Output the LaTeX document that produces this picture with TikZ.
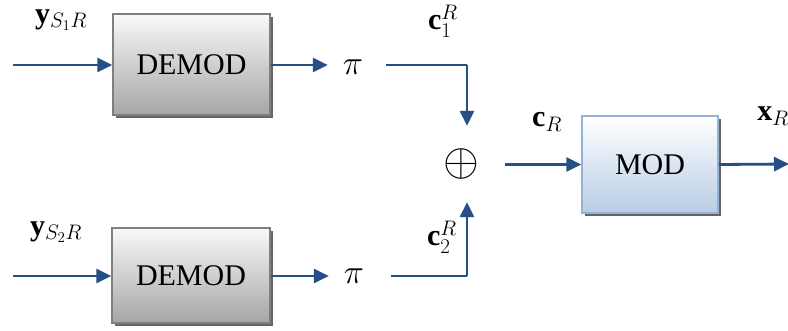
\RequirePackage{fix-cm}
\documentclass[tikz,border=0pt]{standalone}
\usepackage{fontspec}
\setmainfont{Liberation Serif}
\usetikzlibrary{arrows.meta,shadows,positioning}
\definecolor{arrblue}{HTML}{254F85}
\definecolor{boxborder}{HTML}{7F7F7F}
\definecolor{modborder}{HTML}{95B3D7}
\definecolor{modbot}{HTML}{B9CDE5}
\tikzset{
  demodbox/.style={draw=boxborder, line width=1.5pt, top color=gray!5, bottom color=gray!70,
    font=\fontsize{30}{32}\selectfont, inner sep=0pt,
    drop shadow={shadow xshift=3pt, shadow yshift=-3pt, fill=gray!80!black, opacity=1}},
  modbox/.style={draw=modborder, line width=1.5pt, top color=white, bottom color=modbot,
    minimum width=136pt, minimum height=97pt, font=\fontsize{30}{32}\selectfont, inner sep=0pt,
    drop shadow={shadow xshift=3pt, shadow yshift=-3pt, fill=gray!80!black, opacity=1}},
  conn/.style={draw=arrblue, line width=2.8pt, -{Triangle[length=15pt,width=14pt]}},
  conn0/.style={draw=arrblue, line width=2.8pt},
  lbl/.style={font=\fontsize{30}{32}\selectfont, inner sep=0pt},
  sym/.style={font=\fontsize{34}{36}\selectfont, inner sep=0pt}
}
\begin{document}
\begin{tikzpicture}[x=1pt,y=-1pt]
\useasboundingbox (0,0) rectangle (788,330);
% boxes
\node[demodbox, minimum width=157pt, minimum height=101pt] (d1) at (191.5,64.5) {DEMOD};
\node[demodbox, minimum width=158pt, minimum height=95pt] (d2) at (191,275.5) {DEMOD};
\node[modbox] (mod) at (650,164.5) {MOD};
% pi and plus
\node[sym, minimum width=50pt, minimum height=20pt] (p1) at (353,67) {$\pi$};
\node[sym, minimum width=50pt, minimum height=20pt] (p2) at (354,276) {$\pi$};
\node[font=\fontsize{46}{48}\selectfont, inner sep=0pt, minimum width=84pt, minimum height=76pt] (plus) at (461,164) {$\oplus$};
% free ends
\coordinate (in1) at (13,65);
\coordinate (in2) at (13,276);
\coordinate (out) at (789,164);
\coordinate (k1) at (467,65);
\coordinate (k2) at (467,276);
% labels
\node[lbl] (ly1) at (61,20) {$\mathbf{y}_{S_1R}$};
\node[lbl] (ly2) at (56,232) {$\mathbf{y}_{S_2R}$};
\node[lbl] (lc1) at (443,21) {$\mathbf{c}_1^R$};
\node[lbl] (lc2) at (442,237) {$\mathbf{c}_2^R$};
\node[lbl] (lcr) at (547,122) {$\mathbf{c}_R$};
\node[lbl] (lxr) at (773,116) {$\mathbf{x}_R$};
% connectors
\draw[conn] (in1) -- (d1.west |- in1);
\draw[conn] (in2) -- (d2.west |- in2);
\draw[conn] (d1.east |- k1) -- (p1.west |- k1);
\draw[conn] (d2.east |- k2) -- (p2.west |- k2);
\draw[conn0] ([xshift=8pt]p1.east |- k1) -- (k1);
\draw[conn] (k1) -- (k1 |- plus.north);
\draw[conn0] ([xshift=12pt]p2.east |- k2) -- (k2);
\draw[conn] (k2) -- (k2 |- plus.south);
\draw[conn] ([xshift=2pt]plus.east |- mod.west) -- (mod.west);
\draw[conn] (mod.east) -- (out);
\end{tikzpicture}
\end{document}
